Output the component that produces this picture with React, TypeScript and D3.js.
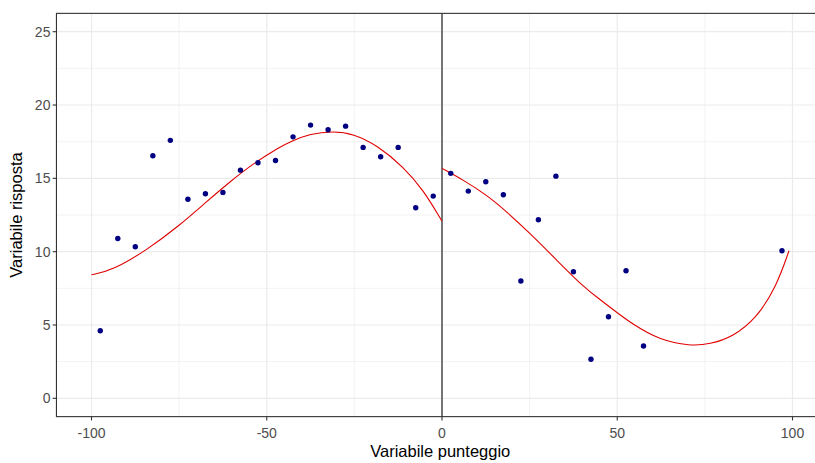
import React from "react";
import * as d3 from "d3";

const pointX = [-97.5, -92.5, -87.5, -82.5, -77.5, -72.5, -67.5, -62.5, -57.5, -52.5, -47.5, -42.5, -37.5, -32.5, -27.5, -22.5, -17.5, -12.5, -7.5, -2.5, 2.5, 7.5, 12.5, 17.5, 22.5, 27.5, 32.5, 37.5, 42.5, 47.5, 52.5, 57.5, 97];
const pointY = [4.61, 10.9, 10.33, 16.54, 17.59, 13.57, 13.95, 14.04, 15.56, 16.06, 16.22, 17.83, 18.63, 18.31, 18.56, 17.11, 16.47, 17.11, 12.99, 13.79, 15.34, 14.13, 14.77, 13.88, 8.0, 12.18, 15.15, 8.63, 2.66, 5.56, 8.7, 3.57, 10.06];

const leftFitX = [-100, -93.8, -84.3, -74.8, -67.2, -60.6, -53.9, -46.2, -43.3, -37.6, -31, -25.3, -18.6, -11, -5.3, 0];
const leftFitY = [8.42, 8.75, 10.1, 11.8, 13.4, 14.75, 16.0, 17.15, 17.5, 18.05, 18.22, 18.04, 17.27, 15.79, 14.2, 12.08];
const rightFitX = [0, 6.1, 12.8, 18.5, 25.1, 32.7, 40.3, 45, 48, 54.6, 62.2, 70.7, 76.4, 83, 89.7, 95.4, 99];
const rightFitY = [15.68, 14.88, 13.86, 12.72, 11.25, 9.43, 7.61, 6.75, 6.2, 5.0, 3.97, 3.57, 3.68, 4.2, 5.45, 7.61, 10.06];

const xTicks = [-100, -50, 0, 50, 100];
const xMinor = [-75, -25, 25, 75];
const yTicks = [0, 5, 10, 15, 20, 25];
const yMinor = [2.5, 7.5, 12.5, 17.5, 22.5];

const W = 815;
const H = 463;
const FONT = "'Liberation Sans', Arial, sans-serif";

export default function App() {
  const x = d3.scaleLinear().domain([-100, 100]).range([91.5, 792.5]);
  const y = d3.scaleLinear().domain([0, 25]).range([398.3, 31.7]);
  const px0 = x(-110);
  const px1 = x(109);
  const py0 = y(26.25);
  const py1 = y(-1.25);

  const line = d3
    .line<[number, number]>()
    .x((d) => x(d[0]))
    .y((d) => y(d[1]))
    .curve(d3.curveBasis);
  const left = leftFitX.map((v, i) => [v, leftFitY[i]] as [number, number]);
  const right = rightFitX.map((v, i) => [v, rightFitY[i]] as [number, number]);

  return (
    <svg width={W} height={H} style={{ position: "absolute", left: 0, top: 0, background: "#fff" }} fontFamily={FONT}>
      <defs>
        <clipPath id="panel">
          <rect x={px0} y={py0} width={px1 - px0} height={py1 - py0} />
        </clipPath>
      </defs>
      <rect x={0} y={0} width={W} height={H} fill="#fff" />
      <g clipPath="url(#panel)">
        {yMinor.map((t) => (
          <line key={"ym" + t} x1={px0} x2={px1} y1={y(t)} y2={y(t)} stroke="#EBEBEB" strokeWidth={0.6} />
        ))}
        {xMinor.map((t) => (
          <line key={"xm" + t} x1={x(t)} x2={x(t)} y1={py0} y2={py1} stroke="#EBEBEB" strokeWidth={0.6} />
        ))}
        {yTicks.map((t) => (
          <line key={"yg" + t} x1={px0} x2={px1} y1={y(t)} y2={y(t)} stroke="#EBEBEB" strokeWidth={1.2} />
        ))}
        {xTicks.map((t) => (
          <line key={"xg" + t} x1={x(t)} x2={x(t)} y1={py0} y2={py1} stroke="#EBEBEB" strokeWidth={1.2} />
        ))}
        <line x1={x(0)} x2={x(0)} y1={py0} y2={py1} stroke="#222" strokeWidth={1.2} />
        <path d={line(left) || ""} fill="none" stroke="#E00000" strokeWidth={1.1} />
        <path d={line(right) || ""} fill="none" stroke="#E00000" strokeWidth={1.1} />
        {pointX.map((v, i) => (
          <circle key={"p" + i} cx={x(v)} cy={y(pointY[i])} r={2.7} fill="#000080" />
        ))}
      </g>
      <rect x={px0} y={py0} width={px1 - px0} height={py1 - py0} fill="none" stroke="#333" strokeWidth={1.1} />
      {yTicks.map((t) => (
        <g key={"yt" + t}>
          <line x1={px0 - 3.8} x2={px0} y1={y(t)} y2={y(t)} stroke="#333" strokeWidth={1.1} />
          <text x={px0 - 6} y={y(t)} dy="0.35em" textAnchor="end" fontSize={14} fill="#4D4D4D">
            {t}
          </text>
        </g>
      ))}
      {xTicks.map((t) => (
        <g key={"xt" + t}>
          <line x1={x(t)} x2={x(t)} y1={py1} y2={py1 + 3.8} stroke="#333" strokeWidth={1.1} />
          <text x={x(t)} y={438} textAnchor="middle" fontSize={14} fill="#4D4D4D">
            {t}
          </text>
        </g>
      ))}
      <text x={(px0 + px1) / 2} y={457} textAnchor="middle" fontSize={16.5} fill="#000">
        Variabile punteggio
      </text>
      <text
        transform={`translate(22, ${(py0 + py1) / 2}) rotate(-90)`}
        textAnchor="middle"
        fontSize={16.5}
        fill="#000"
      >
        Variabile risposta
      </text>
    </svg>
  );
}
